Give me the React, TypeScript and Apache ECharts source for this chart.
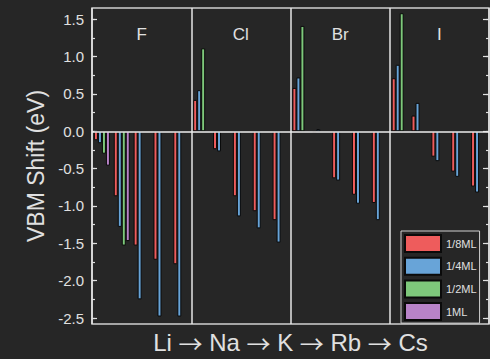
import React, { useEffect, useRef } from 'react';
import * as echarts from 'echarts';

// Panels (halide) and, inside each panel, the alkali series Li → Cs
const halogens = ['F', 'Cl', 'Br', 'I'];
const alkalis = ['Li', 'Na', 'K', 'Rb', 'Cs'];
const coverages = ['1/8ML', '1/4ML', '1/2ML', '1ML'];

// VBM shift (eV), ordered F(Li..Cs), Cl(Li..Cs), Br(Li..Cs), I(Li..Cs)
const shiftEighth = [
  -0.12, -0.87, -1.53, -1.72, -1.78,
  0.42, -0.24, -0.87, -1.07, -1.19,
  0.58, -0.02, -0.63, -0.85, -0.96,
  0.71, 0.21, -0.34, -0.54, -0.74,
];
const shiftQuarter = [
  -0.16, -1.28, -2.25, -2.48, -2.48,
  0.55, -0.27, -1.14, -1.3, -1.49,
  0.72, 0.03, -0.66, -0.97, -1.19,
  0.89, 0.38, -0.4, -0.61, -0.82,
];
const shiftHalf = [
  -0.3, -1.53, null, null, null,
  1.11, null, null, null, null,
  1.41, null, null, null, null,
  1.58, null, null, null, null,
];
const shiftFull = [
  -0.46, -1.47, null, null, null,
  null, null, null, null, null,
  null, null, null, null, null,
  null, null, null, null, null,
];

const yTicks = [-2.5, -2.0, -1.5, -1.0, -0.5, 0.0, 0.5, 1.0, 1.5];
const yMinorTicks = [
  -2.5, -2.25, -2.0, -1.75, -1.5, -1.25, -1.0, -0.75, -0.5, -0.25,
  0.0, 0.25, 0.5, 0.75, 1.0, 1.25, 1.5,
];
const Y_MIN = -2.58;
const Y_MAX = 1.65;

const seriesValues = [shiftEighth, shiftQuarter, shiftHalf, shiftFull];
const seriesColors = ['#ee5c5c', '#68a4d8', '#7ec87b', '#b883c8'];

const BG = '#262626';
const FRAME = '#cfcfcf';
const TEXT = '#e0e0e0';
const FONT = '"Liberation Sans", Arial, sans-serif';
const ARROW_FONT = '"Noto Sans CJK SC", "DejaVu Sans", sans-serif';

const categories = halogens.flatMap((h) => alkalis.map((a) => `${h}-${a}`));
// "Li → Na → K → Rb → Cs" with the arrows set in a wide-arrow font
const xAxisTitle = alkalis.join(' {arr|→} ');

function tickAxis(position: 'left' | 'right', values: number[], length: number, withLabels: boolean) {
  return {
    type: 'value',
    position,
    min: Y_MIN,
    max: Y_MAX,
    axisLine: { show: false },
    splitLine: { show: false },
    axisTick: {
      show: true,
      inside: true,
      length,
      customValues: values,
      lineStyle: { color: TEXT, width: 1.2 },
    },
    axisLabel: withLabels
      ? {
          show: true,
          customValues: values,
          color: TEXT,
          fontSize: 15,
          fontFamily: FONT,
          margin: 8,
          formatter: (v: number) => v.toFixed(1),
        }
      : { show: false },
  };
}

export default function App() {
  const ref = useRef<HTMLDivElement>(null);

  useEffect(() => {
    if (!ref.current) return;
    const chart = echarts.init(ref.current, undefined, { renderer: 'svg' });

    const leftMain: any = tickAxis('left', yTicks, 5, true);
    leftMain.name = 'VBM Shift (eV)';
    leftMain.nameLocation = 'middle';
    leftMain.nameGap = 42;
    leftMain.nameTextStyle = { color: TEXT, fontSize: 23, fontFamily: FONT };

    chart.setOption({
      animation: false,
      backgroundColor: BG,
      textStyle: { fontFamily: FONT },
      grid: {
        left: 92,
        right: 1,
        top: 8,
        bottom: 32,
        show: true,
        borderColor: FRAME,
        borderWidth: 1.5,
        backgroundColor: 'transparent',
      },
      legend: {
        data: coverages,
        orient: 'vertical',
        left: 401,
        top: 231,
        icon: 'rect',
        itemWidth: 36,
        itemHeight: 17,
        itemGap: 3.7,
        padding: [3, 3, 2, 3],
        borderColor: FRAME,
        borderWidth: 1,
        selectedMode: false,
        textStyle: { color: TEXT, fontSize: 11, fontFamily: FONT },
      },
      xAxis: [
        {
          type: 'category',
          data: categories,
          position: 'bottom',
          axisLine: { show: false },
          axisTick: { show: false },
          axisLabel: { show: false },
          splitLine: { show: false },
          name: xAxisTitle,
          nameLocation: 'middle',
          nameGap: 6,
          nameTextStyle: {
            color: TEXT,
            fontSize: 24,
            fontFamily: FONT,
            verticalAlign: 'top',
            rich: {
              arr: { color: TEXT, fontSize: 24, fontFamily: ARROW_FONT },
            },
          },
        },
        {
          type: 'category',
          data: halogens,
          position: 'top',
          axisLine: { show: false },
          axisTick: { show: false },
          axisLabel: {
            inside: true,
            margin: 18,
            color: TEXT,
            fontSize: 17,
            fontFamily: FONT,
          },
          splitLine: { show: true, lineStyle: { color: '#e6e6e6', width: 1.5 } },
        },
      ],
      yAxis: [
        leftMain,
        tickAxis('left', yMinorTicks, 3, false),
        tickAxis('right', yTicks, 6, false),
        tickAxis('right', yMinorTicks, 3, false),
      ],
      series: coverages.map((name, i) => ({
        name,
        type: 'bar',
        xAxisIndex: 0,
        yAxisIndex: 0,
        data: seriesValues[i],
        barWidth: 4,
        barGap: '0%',
        itemStyle: {
          color: seriesColors[i],
          borderColor: '#0a0a0a',
          borderWidth: 1,
        },
        ...(i === 0
          ? {
              markLine: {
                silent: true,
                symbol: 'none',
                z: 10,
                label: { show: false },
                lineStyle: { color: '#eeeeee', width: 1.5, type: 'solid' },
                data: [{ yAxis: 0 }],
              },
            }
          : {}),
      })),
    });

    return () => chart.dispose();
  }, []);

  return (
    <div
      ref={ref}
      style={{ position: 'absolute', left: 0, top: 0, width: 490, height: 359, background: BG }}
    />
  );
}
